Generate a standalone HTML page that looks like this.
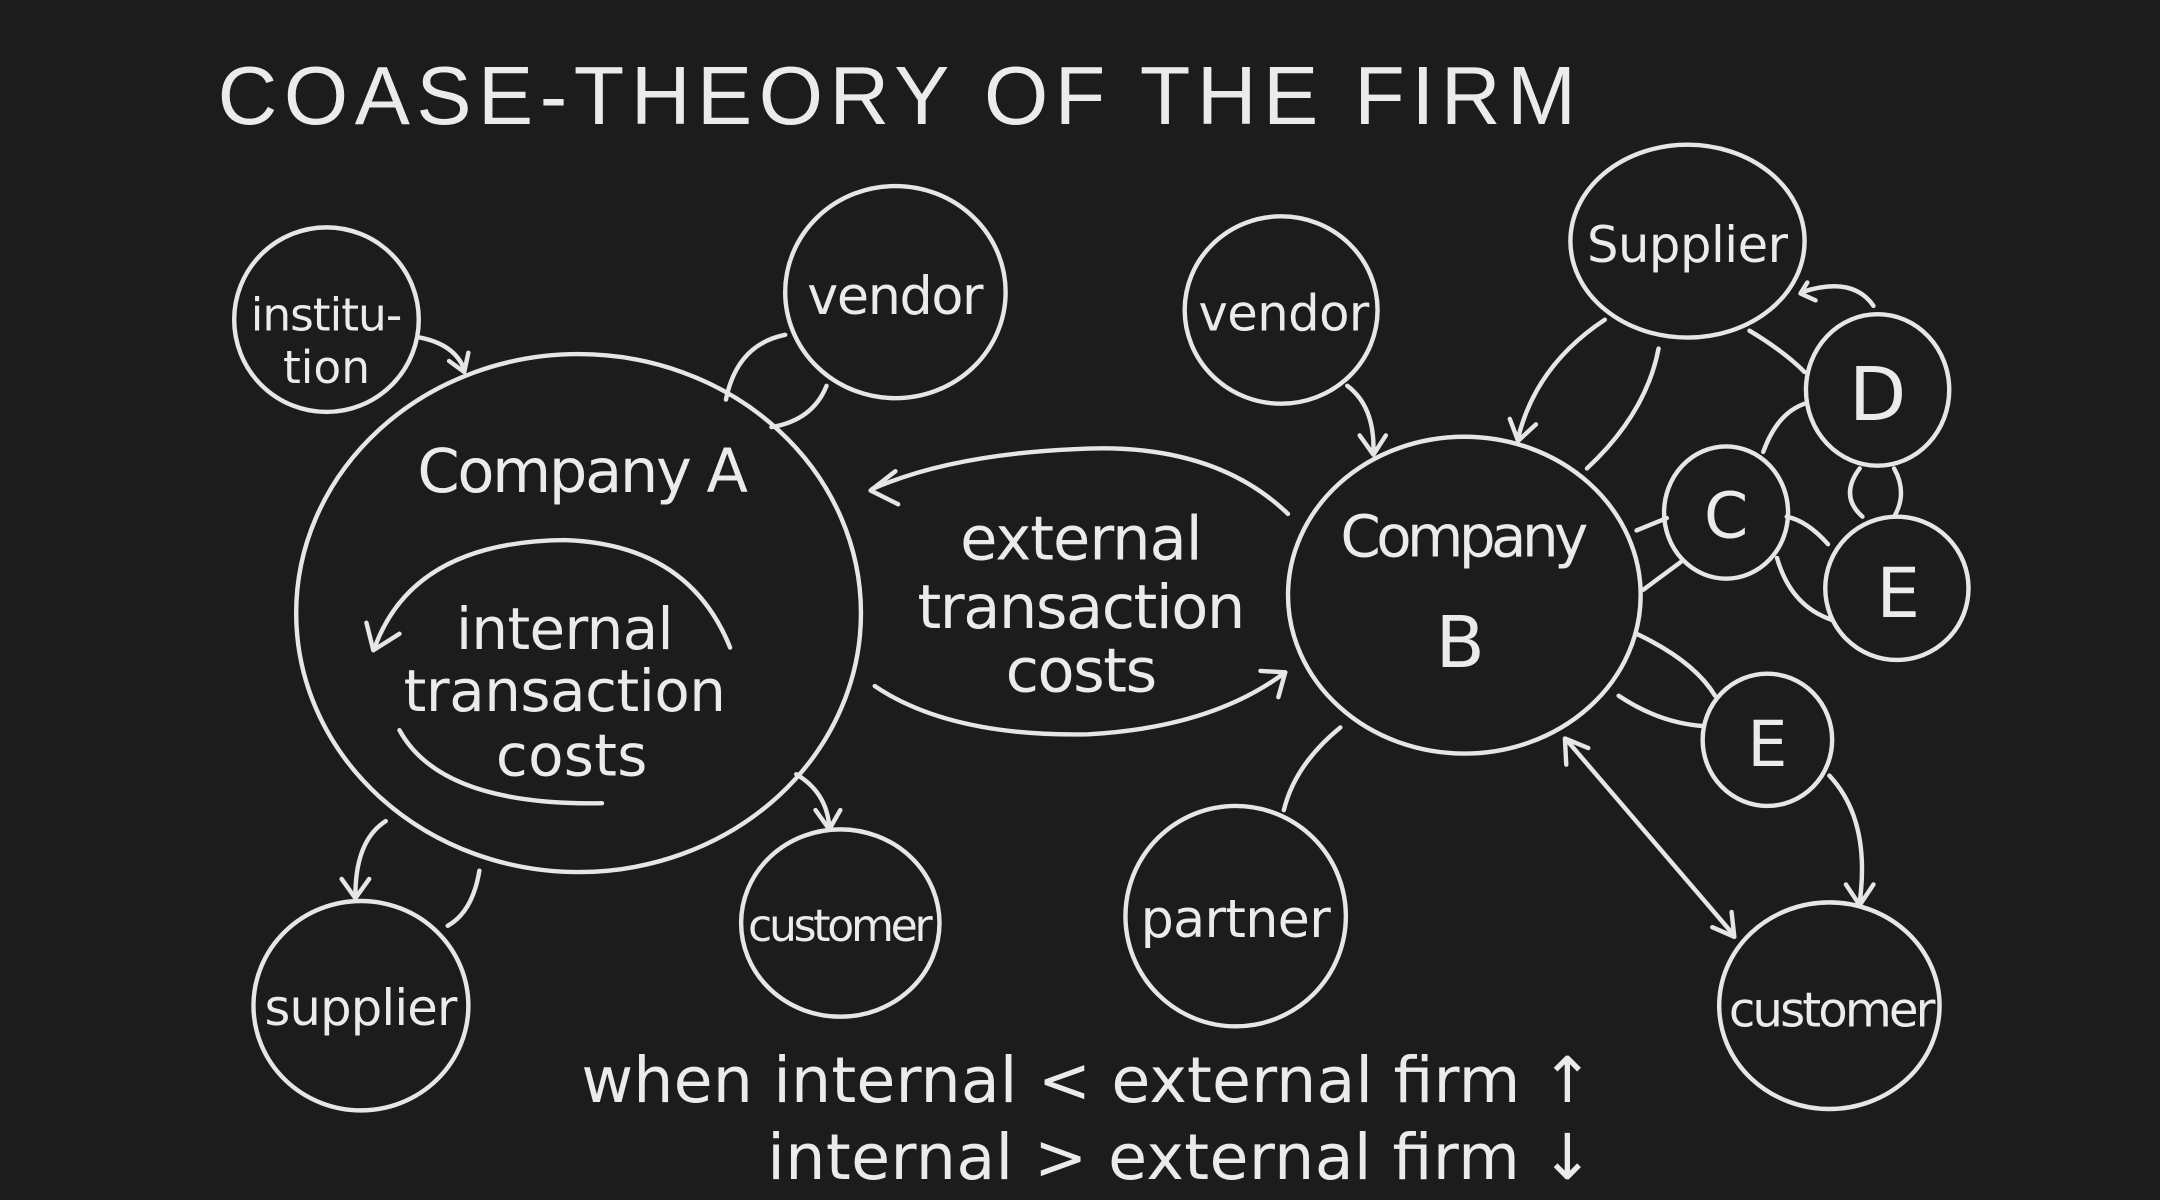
<!DOCTYPE html>
<html><head><meta charset="utf-8"><style>
html,body{margin:0;padding:0;background:#1c1c1c;}
svg{display:block;}
text{font-family:"DejaVu Sans","Liberation Sans",sans-serif;fill:#ebebeb;}
.s{fill:none;stroke:#e6e6e6;stroke-width:3.2;stroke-linecap:round;stroke-linejoin:round;}
</style></head><body>
<svg width="2160" height="1200" viewBox="0 0 1568 871" xmlns="http://www.w3.org/2000/svg">
<rect width="1568" height="871" fill="#1c1c1c"/>
<text x="158" y="90" font-size="60" letter-spacing="4" textLength="990" style="font-family:'Liberation Sans',sans-serif">COASE-THEORY OF THE FIRM</text>

<ellipse class="s" cx="237" cy="232" rx="67" ry="67"/>
<text x="237" y="240" font-size="33" text-anchor="middle" textLength="110">institu-</text>
<text x="237" y="278" font-size="33" text-anchor="middle">tion</text>
<path class="s" d="M305 245 Q330 250 337 268"/><path class="s" d="M326 262 L337 270 L340 256"/>

<ellipse class="s" cx="650" cy="212" rx="80" ry="77"/>
<text x="650" y="228" font-size="38" text-anchor="middle" textLength="128">vendor</text>
<path class="s" d="M570 243 Q535 250 527 290"/><path class="s" d="M600 280 Q590 305 560 310"/>

<ellipse class="s" cx="420" cy="445" rx="205" ry="188"/>
<text x="423" y="357" font-size="44" text-anchor="middle" textLength="240">Company A</text>
<text x="410" y="471" font-size="42" text-anchor="middle" textLength="158">internal</text>
<text x="410" y="516" font-size="42" text-anchor="middle" textLength="234">transaction</text>
<text x="415" y="563" font-size="42" text-anchor="middle" textLength="110">costs</text>
<path class="s" d="M530 470 Q500 395 410 392 Q300 393 272 470"/><path class="s" d="M266 452 L271 472 L290 460"/>
<path class="s" d="M290 530 Q320 585 437 583"/>

<ellipse class="s" cx="262" cy="730" rx="78" ry="76"/>
<text x="262" y="744" font-size="36" text-anchor="middle" textLength="140">supplier</text>
<path class="s" d="M280 596 Q258 610 258 650"/><path class="s" d="M248 638 L258 652 L268 638"/>
<path class="s" d="M348 632 Q343 662 325 672"/>

<ellipse class="s" cx="610" cy="670" rx="72" ry="68"/>
<text x="610" y="683" font-size="32" text-anchor="middle" textLength="134">customer</text>
<path class="s" d="M578 562 Q600 575 602 600"/><path class="s" d="M592 588 L602 602 L610 588"/>

<text x="785" y="406" font-size="44" text-anchor="middle" textLength="176">external</text>
<text x="785" y="456" font-size="44" text-anchor="middle" textLength="238">transaction</text>
<text x="785" y="502" font-size="44" text-anchor="middle" textLength="110">costs</text>
<path class="s" d="M935 373 Q880 320 780 326 Q690 330 633 355"/><path class="s" d="M650 342 L632 356 L652 366"/>
<path class="s" d="M635 498 Q690 535 790 533 Q880 528 933 488"/><path class="s" d="M915 487 L933 488 L928 506"/>

<ellipse class="s" cx="930" cy="225" rx="70" ry="68"/>
<text x="932" y="240" font-size="36" text-anchor="middle" textLength="124">vendor</text>
<path class="s" d="M978 280 Q998 295 997 328"/><path class="s" d="M987 316 L997 330 L1006 316"/>

<ellipse class="s" cx="1063" cy="432" rx="128" ry="115"/>
<text x="1063" y="404" font-size="42" text-anchor="middle" textLength="180">Company</text>
<text x="1060" y="484" font-size="52" text-anchor="middle">B</text>

<ellipse class="s" cx="1225" cy="175" rx="85" ry="70"/>
<text x="1225" y="190" font-size="36" text-anchor="middle" textLength="146">Supplier</text>
<path class="s" d="M1165 232 Q1115 265 1102 318"/><path class="s" d="M1096 304 L1102 320 L1115 308"/>
<path class="s" d="M1204 253 Q1195 300 1152 340"/>
<path class="s" d="M1270 240 Q1295 255 1310 270"/>
<path class="s" d="M1308 212 Q1345 200 1360 222"/><path class="s" d="M1312 205 L1307 213 L1318 218"/>

<ellipse class="s" cx="1363" cy="283" rx="52" ry="55"/>
<text x="1363" y="305" font-size="54" text-anchor="middle">D</text>
<ellipse class="s" cx="1253" cy="372" rx="45" ry="48"/>
<text x="1253" y="390" font-size="46" text-anchor="middle">C</text>
<ellipse class="s" cx="1377" cy="427" rx="52" ry="52"/>
<text x="1378" y="448" font-size="50" text-anchor="middle">E</text>
<ellipse class="s" cx="1283" cy="537" rx="47" ry="48"/>
<text x="1283" y="556" font-size="46" text-anchor="middle">E</text>

<path class="s" d="M1310 293 Q1290 300 1280 328"/>
<path class="s" d="M1350 340 Q1335 360 1352 375"/><path class="s" d="M1375 340 Q1385 358 1375 375"/>
<path class="s" d="M1297 375 Q1312 378 1327 395"/>
<path class="s" d="M1290 405 Q1300 440 1330 450"/>
<path class="s" d="M1188 385 L1210 376"/><path class="s" d="M1193 428 L1220 408"/>
<path class="s" d="M1188 460 Q1230 480 1245 505"/>
<path class="s" d="M1175 505 Q1205 525 1237 527"/>

<ellipse class="s" cx="897" cy="665" rx="80" ry="80"/>
<text x="897" y="680" font-size="38" text-anchor="middle" textLength="138">partner</text>
<path class="s" d="M973 528 Q940 555 932 588"/>

<ellipse class="s" cx="1328" cy="730" rx="80" ry="75"/>
<text x="1330" y="745" font-size="35" text-anchor="middle" textLength="150">customer</text>
<path class="s" d="M1328 563 Q1358 595 1350 655"/><path class="s" d="M1340 642 L1350 657 L1360 642"/>
<path class="s" d="M1138 538 L1258 678"/><path class="s" d="M1137 555 L1136 536 L1153 543"/><path class="s" d="M1243 673 L1259 680 L1257 662"/>

<text x="422" y="800" font-size="46" textLength="735" style="font-family:'DejaVu Sans',sans-serif">when internal &lt; external firm ↑</text>
<text x="557" y="856" font-size="46" textLength="600" style="font-family:'DejaVu Sans',sans-serif">internal &gt; external firm ↓</text>
</svg>
</body></html>
